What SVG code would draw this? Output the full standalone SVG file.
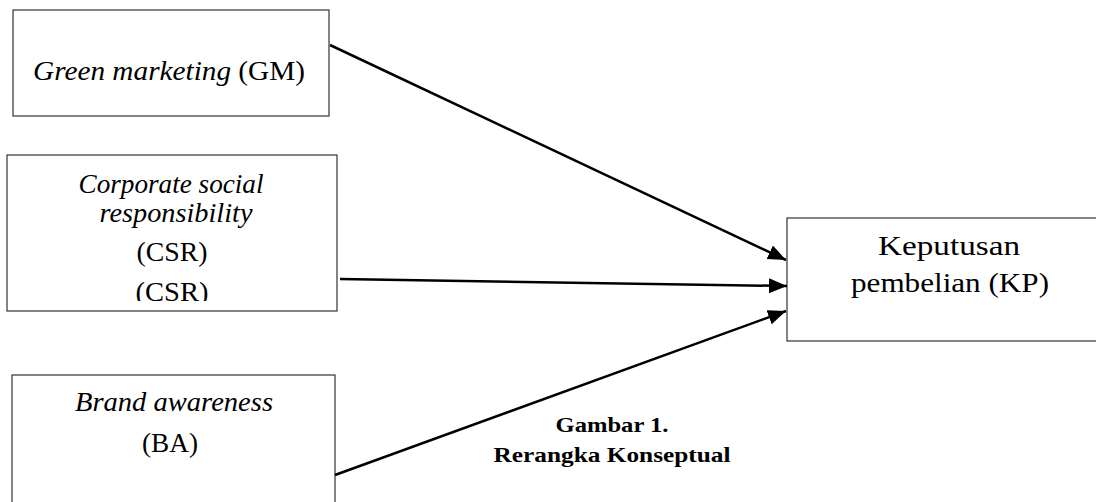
<svg xmlns="http://www.w3.org/2000/svg" width="1096" height="502" viewBox="0 0 1096 502">
<style>
.box{fill:#fff;stroke:#333;stroke-width:1.2}
.t{font-family:"Liberation Serif","DejaVu Serif",serif;font-size:28px;fill:#000;text-anchor:middle}
.i{font-style:italic}
.cap{font-family:"Liberation Serif","DejaVu Serif",serif;font-size:22px;font-weight:bold;fill:#000;text-anchor:middle}
.c{stroke:#000;stroke-width:2.5;fill:none;marker-end:url(#ah)}
</style>
<defs>
<marker id="ah" markerUnits="userSpaceOnUse" markerWidth="20" markerHeight="16" refX="18" refY="7.5" orient="auto">
<path d="M0,0 L18,7.5 L0,15 Z" fill="#000"/>
</marker>
<clipPath id="csrclip"><rect x="7" y="155" width="330" height="146"/></clipPath>
</defs>
<rect width="1096" height="502" fill="#fff"/>
<g id="node-gm">
<rect class="box" x="13" y="10" width="316" height="106"/>
<text class="t" x="169" y="80" textLength="272" lengthAdjust="spacingAndGlyphs"><tspan class="i">Green marketing</tspan> (GM)</text>
</g>
<g id="node-csr">
<rect class="box" x="7" y="155" width="330" height="156"/>
<g clip-path="url(#csrclip)">
<text class="t i" x="171" y="193" textLength="185" lengthAdjust="spacingAndGlyphs">Corporate social</text>
<text class="t i" x="176" y="222" textLength="153" lengthAdjust="spacingAndGlyphs">responsibility</text>
<text class="t" x="172" y="261" textLength="71" lengthAdjust="spacingAndGlyphs">(CSR)</text>
<text class="t" x="172" y="301" textLength="73" lengthAdjust="spacingAndGlyphs">(CSR)</text>
</g>
</g>
<g id="node-ba">
<rect class="box" x="12" y="375" width="323" height="140"/>
<text class="t i" x="174" y="411" textLength="198" lengthAdjust="spacingAndGlyphs">Brand awareness</text>
<text class="t" x="170" y="452" textLength="56" lengthAdjust="spacingAndGlyphs">(BA)</text>
</g>
<g id="node-kp">
<rect class="box" x="787" y="218" width="324" height="123"/>
<text class="t" x="949" y="255" textLength="142" lengthAdjust="spacingAndGlyphs">Keputusan</text>
<text class="t" x="950" y="292" textLength="198" lengthAdjust="spacingAndGlyphs">pembelian (KP)</text>
</g>
<g id="connectors">
<line class="c" x1="330" y1="45" x2="786" y2="260"/>
<line class="c" x1="340" y1="279" x2="787" y2="286"/>
<line class="c" x1="335" y1="475" x2="786" y2="311"/>
</g>
<g id="caption">
<text class="cap" x="612" y="432" textLength="113" lengthAdjust="spacingAndGlyphs">Gambar 1.</text>
<text class="cap" x="612" y="462" textLength="237" lengthAdjust="spacingAndGlyphs">Rerangka Konseptual</text>
</g>
</svg>
